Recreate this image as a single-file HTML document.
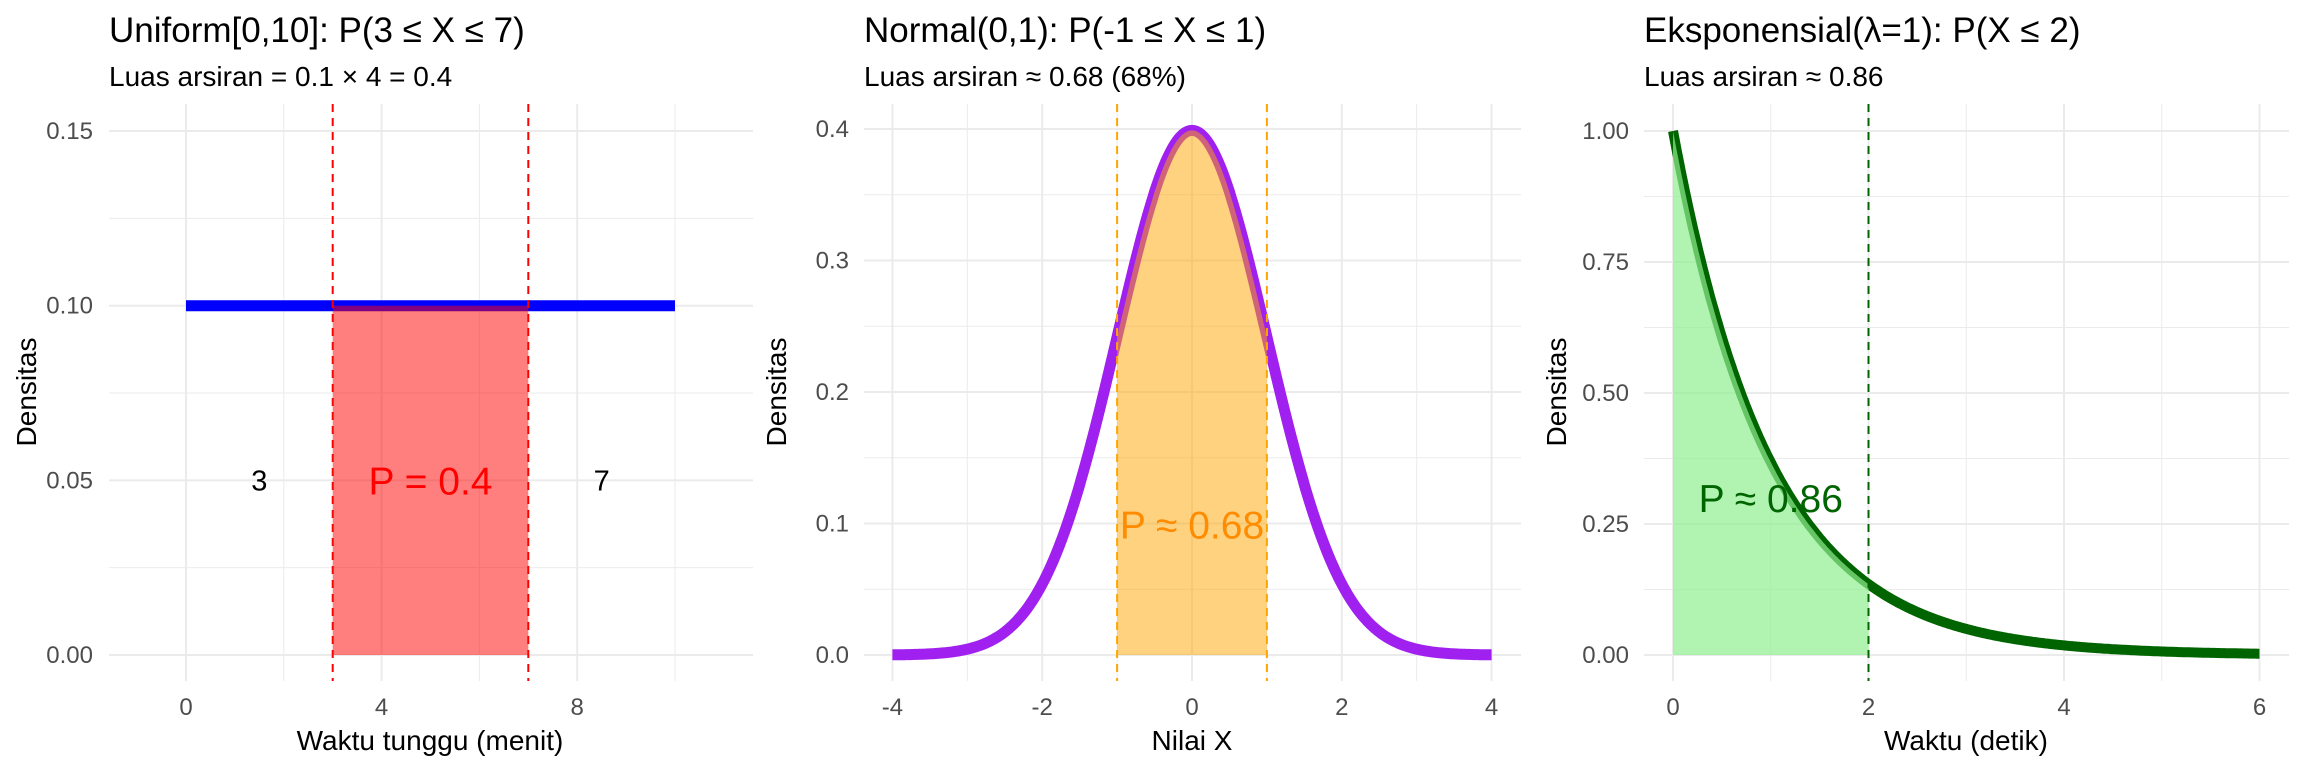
<!DOCTYPE html>
<html><head><meta charset="utf-8"><style>
html,body{margin:0;padding:0;background:#fff;}
svg{display:block;font-family:"Liberation Sans",Arial,sans-serif;}
.t{font-size:35px;fill:#000}
.s{font-size:28px;fill:#000}
.ax{font-size:28px;fill:#000}
.tk{font-size:24px;fill:#4d4d4d}
.mj{stroke:#ebebeb;stroke-width:2}
.mn{stroke:#ebebeb;stroke-width:1}
</style></head><body>
<svg id="s" width="2304" height="768" viewBox="0 0 2304 768" xmlns="http://www.w3.org/2000/svg">
<rect width="2304" height="768" fill="#fff"/>
<g id="g1"></g><g id="g2"></g><g id="g3"></g>
<text class="t" x="109" y="42">Uniform[0,10]: P(3 ≤ X ≤ 7)</text>
<text class="s" x="109" y="86">Luas arsiran = 0.1 × 4 = 0.4</text>
<text class="t" x="864" y="42">Normal(0,1): P(-1 ≤ X ≤ 1)</text>
<text class="s" x="864" y="86">Luas arsiran ≈ 0.68 (68%)</text>
<text class="t" x="1644" y="42">Eksponensial(λ=1): P(X ≤ 2)</text>
<text class="s" x="1644" y="86">Luas arsiran ≈ 0.86</text>
<text class="ax" x="430" y="750" text-anchor="middle">Waktu tunggu (menit)</text>
<text class="ax" x="1192" y="750" text-anchor="middle">Nilai X</text>
<text class="ax" x="1966" y="750" text-anchor="middle">Waktu (detik)</text>
<text class="ax" transform="translate(36,392) rotate(-90)" text-anchor="middle">Densitas</text>
<text class="ax" transform="translate(786,392) rotate(-90)" text-anchor="middle">Densitas</text>
<text class="ax" transform="translate(1566,392) rotate(-90)" text-anchor="middle">Densitas</text>
</svg>
<script>
const NS="http://www.w3.org/2000/svg";
function el(g,tag,a,txt){const e=document.createElementNS(NS,tag);for(const k in a)e.setAttribute(k,a[k]);if(txt!==undefined)e.textContent=txt;g.appendChild(e);return e;}
function panel(id,o){
 const g=document.getElementById(id);
 const X=v=>o.x0+(v-o.xa)*o.ux, Y=v=>o.y0-(v)*o.uy;
 o.ymin.forEach(v=>el(g,'line',{class:'mn',x1:o.L,x2:o.R,y1:Y(v),y2:Y(v)}));
 o.xmin.forEach(v=>el(g,'line',{class:'mn',x1:X(v),x2:X(v),y1:104,y2:681}));
 o.ymaj.forEach(v=>el(g,'line',{class:'mj',x1:o.L,x2:o.R,y1:Y(v),y2:Y(v)}));
 o.xmaj.forEach(v=>el(g,'line',{class:'mj',x1:X(v),x2:X(v),y1:104,y2:681}));
 o.ymaj.forEach((v,i)=>el(g,'text',{class:'tk',x:o.ylx,y:Y(v)+8,'text-anchor':'end'},o.ylab[i]));
 o.xmaj.forEach((v,i)=>el(g,'text',{class:'tk',x:X(v),y:715,'text-anchor':'middle'},o.xlab[i]));
 o.draw(g,X,Y);
}
panel('g1',{L:109,R:753,x0:186,xa:0,ux:48.9,y0:655,uy:3493,
 ymaj:[0,0.05,0.1,0.15],ymin:[0.025,0.075,0.125],xmaj:[0,4,8],xmin:[2,6,10],
 ylab:['0.00','0.05','0.10','0.15'],xlab:['0','4','8'],ylx:93,
 draw:(g,X,Y)=>{
  el(g,'line',{x1:X(0),x2:X(10),y1:Y(0.1),y2:Y(0.1),stroke:'#0000ff','stroke-width':11});
  el(g,'rect',{x:X(3),y:Y(0.1),width:X(7)-X(3),height:Y(0)-Y(0.1),fill:'#ff0000','fill-opacity':0.5});
  [3,7].forEach(v=>el(g,'line',{x1:X(v),x2:X(v),y1:104,y2:681,stroke:'#ff0000','stroke-width':2,'stroke-dasharray':'8,6'}));
  el(g,'text',{x:X(1.5),y:Y(0.05)+10,'text-anchor':'middle','font-size':29},'3');
  el(g,'text',{x:X(8.5),y:Y(0.05)+10,'text-anchor':'middle','font-size':29},'7');
  el(g,'text',{x:X(5),y:Y(0.05)+14,'text-anchor':'middle','font-size':39,fill:'#ff0000'},'P = 0.4');
 }});
panel('g2',{L:864,R:1521,x0:1192,xa:0,ux:74.9,y0:655,uy:1315,
 ymaj:[0,0.1,0.2,0.3,0.4],ymin:[0.05,0.15,0.25,0.35],xmaj:[-4,-2,0,2,4],xmin:[-3,-1,1,3],
 ylab:['0.0','0.1','0.2','0.3','0.4'],xlab:['-4','-2','0','2','4'],ylx:849,
 draw:(g,X,Y)=>{
  const f=x=>Math.exp(-x*x/2)/Math.sqrt(2*Math.PI);
  let d='';for(let i=0;i<=400;i++){const x=-4+8*i/400;d+=(i?'L':'M')+X(x).toFixed(1)+','+Y(f(x)).toFixed(1);}
  el(g,'path',{d:d,fill:'none',stroke:'#a020f0','stroke-width':11,'stroke-linejoin':'round'});
  let a='M'+X(-1)+','+Y(0);for(let i=0;i<=100;i++){const x=-1+2*i/100;a+='L'+X(x).toFixed(1)+','+Y(f(x)).toFixed(1);}a+='L'+X(1)+','+Y(0)+'Z';
  el(g,'path',{d:a,fill:'#ffa500','fill-opacity':0.5});
  [-1,1].forEach(v=>el(g,'line',{x1:X(v),x2:X(v),y1:104,y2:681,stroke:'#ffa500','stroke-width':2,'stroke-dasharray':'8,6'}));
  el(g,'text',{x:X(0),y:Y(0.1)+15,'text-anchor':'middle','font-size':39,fill:'#ff8c00'},'P ≈ 0.68');
 }});
panel('g3',{L:1644,R:2289,x0:1673,xa:0,ux:97.75,y0:655,uy:524,
 ymaj:[0,0.25,0.5,0.75,1],ymin:[0.125,0.375,0.625,0.875],xmaj:[0,2,4,6],xmin:[1,3,5],
 ylab:['0.00','0.25','0.50','0.75','1.00'],xlab:['0','2','4','6'],ylx:1629,
 draw:(g,X,Y)=>{
  const f=x=>Math.exp(-x);
  let d='';for(let i=0;i<=300;i++){const x=6*i/300;d+=(i?'L':'M')+X(x).toFixed(1)+','+Y(f(x)).toFixed(1);}
  el(g,'path',{d:d,fill:'none',stroke:'#006400','stroke-width':10,'stroke-linejoin':'round'});
  let a='M'+X(0)+','+Y(0);for(let i=0;i<=100;i++){const x=2*i/100;a+='L'+X(x).toFixed(1)+','+Y(f(x)).toFixed(1);}a+='L'+X(2)+','+Y(0)+'Z';
  el(g,'path',{d:a,fill:'#90ee90','fill-opacity':0.7});
  el(g,'line',{x1:X(2),x2:X(2),y1:104,y2:681,stroke:'#006400','stroke-width':2,'stroke-dasharray':'8,6'});
  el(g,'text',{x:X(1),y:Y(0.3)+14,'text-anchor':'middle','font-size':39,fill:'#006400'},'P ≈ 0.86');
 }});
</script>
</body></html>
